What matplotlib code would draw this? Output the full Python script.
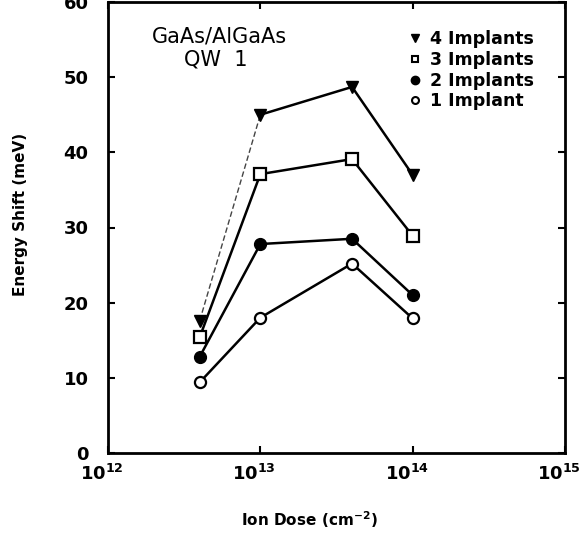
import matplotlib
matplotlib.use("Agg")
import matplotlib.pyplot as plt
from matplotlib.lines import Line2D
from matplotlib.transforms import ScaledTranslation

dose = [4e12, 1e13, 4e13, 1e14]
shift_4 = [17.6, 45.0, 48.7, 37.0]
shift_3 = [15.4, 37.1, 39.1, 28.9]
shift_2 = [12.8, 27.8, 28.5, 21.0]
shift_1 = [9.4, 18.0, 25.2, 17.9]
labels = ["4 Implants", "3 Implants", "2 Implants", "1 Implant"]
xticks = [1e12, 1e13, 1e14, 1e15]
xticklabels = [r"$\mathbf{10^{12}}$", r"$\mathbf{10^{13}}$", r"$\mathbf{10^{14}}$", r"$\mathbf{10^{15}}$"]
yticks = [0, 10, 20, 30, 40, 50, 60]

plt.rcParams['font.family'] = ['DejaVu Sans']
plt.rcParams['mathtext.fontset'] = 'dejavusans'

fig = plt.figure(figsize=(5.85, 5.58), dpi=100)
ax = fig.add_axes([108/585, 105/558, 457/585, 451/558])

lw = 1.8
# 4 implants: dashed first segment
ax.plot(dose[:2], shift_4[:2], color='#444444', lw=1.0, ls=(0, (4, 2)))
ax.plot(dose[1:], shift_4[1:], color='black', lw=lw)
ax.plot(dose, shift_4, ls='none', marker='v', ms=9, mfc='black', mec='black')
ax.plot(dose, shift_3, color='black', lw=lw, marker='s', ms=8, mfc='white', mec='black', mew=1.6)
ax.plot(dose, shift_2, color='black', lw=lw, marker='o', ms=8.5, mfc='black', mec='black')
ax.plot(dose, shift_1, color='black', lw=lw, marker='o', ms=8, mfc='white', mec='black', mew=1.6)

ax.set_xscale('log')
ax.set_xlim(1e12, 1e15)
ax.set_ylim(0, 60)
ax.set_xticks(xticks)
ax.set_xticklabels(xticklabels)
ax.xaxis.set_minor_locator(matplotlib.ticker.NullLocator())
ax.set_yticks(yticks)
ax.tick_params(axis='both', direction='in', length=5, width=1.5, top=True, right=True,
               labelsize=13)
ax.tick_params(axis='x', pad=8)
ax.tick_params(axis='y', pad=14)
for lab in ax.get_yticklabels():
    lab.set_fontweight('bold')
off = ScaledTranslation(-6/100, 0, fig.dpi_scale_trans)
for lab in ax.get_xticklabels():
    lab.set_transform(lab.get_transform() + off)
for s in ax.spines.values():
    s.set_linewidth(2)

ax.set_ylabel("Energy Shift (meV)", fontsize=11, fontweight='bold')
ax.yaxis.set_label_coords(-0.176, 0.53)
ax.set_xlabel(r"Ion Dose (cm$^{\mathbf{-2}}$)", fontsize=11, fontweight='bold')
ax.xaxis.set_label_coords(0.44, -0.125)

ax.text(0.243, 0.924, "GaAs/AlGaAs", transform=ax.transAxes, ha='center', va='center', fontsize=15)
ax.text(0.236, 0.873, "QW  1", transform=ax.transAxes, ha='center', va='center', fontsize=15)

handles = [
    Line2D([], [], ls='none', marker='v', ms=6, mfc='black', mec='black'),
    Line2D([], [], ls='none', marker='s', ms=5, mfc='white', mec='black', mew=1.5),
    Line2D([], [], ls='none', marker='o', ms=6, mfc='black', mec='black'),
    Line2D([], [], ls='none', marker='o', ms=5, mfc='white', mec='black', mew=1.5),
]
leg = ax.legend(handles, labels, loc='upper left', bbox_to_anchor=(0.656, 0.937), frameon=False,
                fontsize=12.5, handlelength=0.8, handletextpad=0.5, labelspacing=0.15,
                borderaxespad=0.0, borderpad=0.0)
for t in leg.get_texts():
    t.set_fontweight('bold')

fig.savefig("out.png", dpi=100)
